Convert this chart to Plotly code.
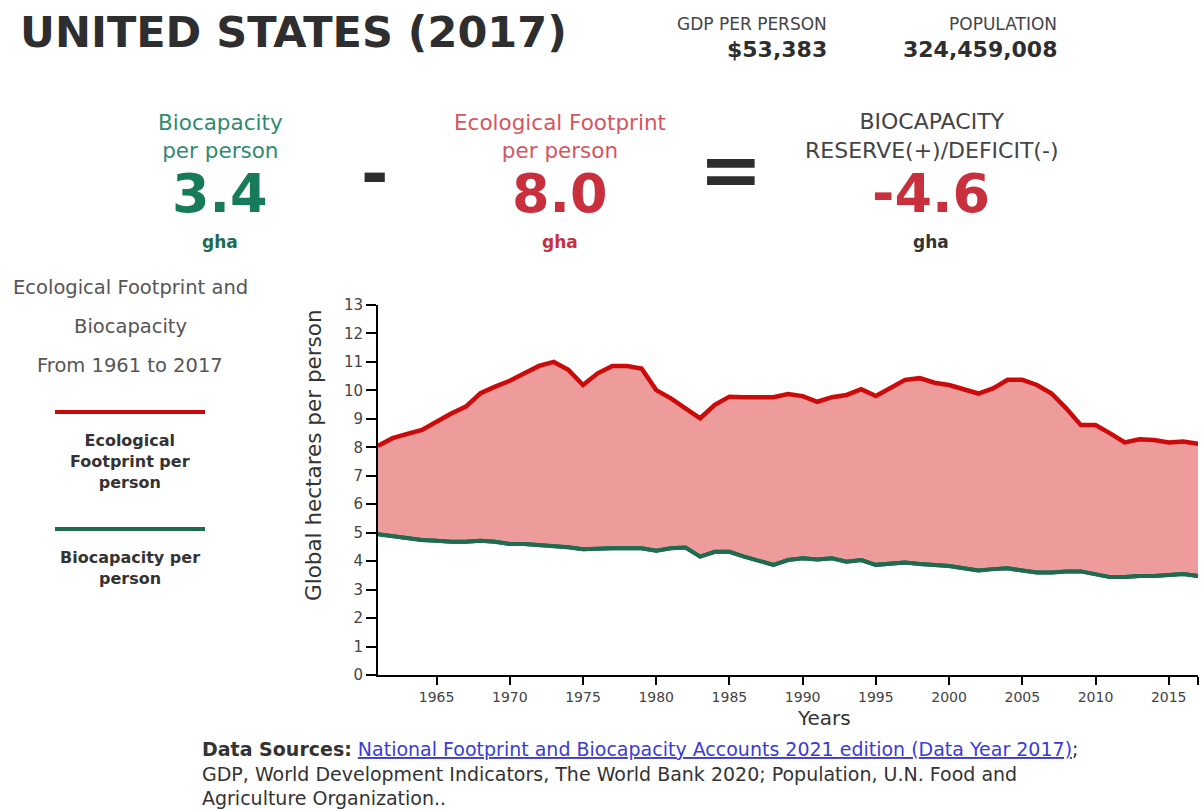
import plotly.graph_objects as go

# ---------------- data ----------------
years = list(range(1961, 2018))
footprint = [8.05, 8.32, 8.47, 8.61, 8.90, 9.19, 9.43, 9.90, 10.13, 10.34,
             10.60, 10.86, 11.00, 10.72, 10.19, 10.60, 10.86, 10.86, 10.77, 10.01,
             9.72, 9.37, 9.02, 9.49, 9.78, 9.76, 9.76, 9.76, 9.87, 9.80,
             9.60, 9.76, 9.84, 10.04, 9.80, 10.07, 10.37, 10.43, 10.27, 10.19,
             10.04, 9.89, 10.07, 10.37, 10.37, 10.19, 9.89, 9.37, 8.78, 8.78,
             8.49, 8.17, 8.28, 8.26, 8.17, 8.20, 8.12]
biocapacity = [4.95, 4.88, 4.80, 4.74, 4.72, 4.68, 4.68, 4.72, 4.68, 4.60,
               4.60, 4.57, 4.53, 4.49, 4.42, 4.45, 4.45, 4.45, 4.45, 4.37,
               4.45, 4.48, 4.16, 4.33, 4.33, 4.16, 4.00, 3.87, 4.04, 4.10,
               4.06, 4.10, 3.98, 4.04, 3.87, 3.92, 3.95, 3.90, 3.87, 3.83,
               3.75, 3.67, 3.72, 3.75, 3.67, 3.60, 3.60, 3.64, 3.64, 3.55,
               3.44, 3.44, 3.48, 3.48, 3.52, 3.55, 3.48]
x_ticks = [1965, 1970, 1975, 1980, 1985, 1990, 1995, 2000, 2005, 2010, 2015]
y_ticks = list(range(0, 14))

country = "UNITED STATES (2017)"
gdp_label, gdp_value = "GDP PER PERSON", "$53,383"
pop_label, pop_value = "POPULATION", "324,459,008"
bio_value, eco_value, res_value = "3.4", "8.0", "-4.6"

# ---------------- layout geometry ----------------
W, H = 1204, 811
L, R, T, B = 378, 6, 305, 136
PW, PH = W - L - R, H - T - B

def px(x):
    return (x - L) / PW

def py(y):
    return (H - B - y) / PH

RED = "#cc0a0a"
GREEN = "#1e6b50"
FILL = "rgba(236,152,152,0.97)"
FONT = "DejaVu Sans, Open Sans, sans-serif"

fig = go.Figure()
fig.add_trace(go.Scatter(x=years, y=biocapacity, mode="lines",
                         line=dict(color=GREEN, width=4), hoverinfo="skip"))
fig.add_trace(go.Scatter(x=years, y=footprint, mode="lines", fill="tonexty",
                         fillcolor=FILL, line=dict(color=RED, width=4.5),
                         hoverinfo="skip"))
fig.add_trace(go.Scatter(x=years, y=biocapacity, mode="lines",
                         line=dict(color=GREEN, width=4), hoverinfo="skip"))

ann = []

def text(x, y, s, size, color="#333", bold=False, align="center", xanchor="center", family=FONT):
    ann.append(dict(x=px(x), y=py(y), xref="paper", yref="paper", text=s,
                    showarrow=False, xanchor=xanchor, yanchor="middle", align=align,
                    font=dict(size=size, color=color, family=family,
                              weight="bold" if bold else "normal")))

# Header
text(18, 32, country, 43, "#2e2e2e", True, xanchor="left")
text(829, 24, gdp_label, 17, "#444", xanchor="right")
text(829, 49, gdp_value, 22, "#2e2e2e", True, xanchor="right")
text(1059, 24, pop_label, 17, "#444", xanchor="right")
text(1059, 49, pop_value, 22, "#2e2e2e", True, xanchor="right")

# Equation row
text(220, 136, "Biocapacity<br>per person", 21.5, "#2f8a72")
text(220, 193, bio_value, 54, "#177a58", True)
text(220, 242, "gha", 17, "#1e6b50", True)
text(374, 173, "-", 66, "#2e2e2e", True)
text(560, 136, "Ecological Footprint<br>per person", 21.5, "#d65560")
text(560, 193, eco_value, 54, "#c8303e", True)
text(560, 242, "gha", 17, "#c8303e", True)
text(731, 170, "=", 76, "#2e2e2e", True)
text(931, 136, "BIOCAPACITY<br>RESERVE(+)/DEFICIT(-)", 22, "#444")
text(931, 193, res_value, 54, "#c8303e", True)
text(931, 242, "gha", 17, "#333", True)

# Side legend
text(130, 287, "Ecological Footprint and", 19.5, "#555")
text(130, 326, "Biocapacity", 19.5, "#555")
text(130, 365, "From 1961 to 2017", 19.5, "#555")
text(130, 461, "Ecological<br>Footprint per<br>person", 16, "#333", True)
text(130, 568, "Biocapacity per<br>person", 16, "#333", True)

# Axis titles
ann.append(dict(x=px(313), y=py(455), xref="paper", yref="paper",
                text="Global hectares per person", showarrow=False, textangle=-90,
                xanchor="center", yanchor="middle",
                font=dict(size=21.5, color="#333", family=FONT)))
text(824, 718, "Years", 20, "#333")

# Sources
src = ("<b>Data Sources:</b> <a href='#' style='color:#3b3bd6'><u>National Footprint and Biocapacity "
       "Accounts 2021 edition (Data Year 2017)</u></a>;<br>"
       "GDP, World Development Indicators, The World Bank 2020; Population, U.N. Food and<br>"
       "Agriculture Organization..")
ann.append(dict(x=px(200), y=py(736), xref="paper", yref="paper", text=src,
                showarrow=False, xanchor="left", yanchor="top", align="left",
                font=dict(size=19, color="#333", family=FONT)))

shapes = [
    dict(type="line", xref="paper", yref="paper", x0=px(55), x1=px(205),
         y0=py(412), y1=py(412), line=dict(color=RED, width=4)),
    dict(type="line", xref="paper", yref="paper", x0=px(55), x1=px(205),
         y0=py(529), y1=py(529), line=dict(color=GREEN, width=4)),
]

x_tickvals = x_ticks + [years[-1]]
x_ticktext = [str(v) for v in x_ticks] + [""]

fig.update_layout(
    width=W, height=H, margin=dict(l=L, r=R, t=T, b=B, pad=0),
    paper_bgcolor="white", plot_bgcolor="white", showlegend=False,
    annotations=ann, shapes=shapes,
    font=dict(family=FONT, color="#333"),
    xaxis=dict(range=[1961, 2017], tickvals=x_tickvals, ticktext=x_ticktext,
               showgrid=False, zeroline=False,
               showline=True, linecolor="black", linewidth=2, ticks="outside",
               ticklen=8, tickwidth=1.5, tickcolor="black",
               tickfont=dict(size=14, color="#444")),
    yaxis=dict(range=[0, 13], tickvals=y_ticks, showgrid=False, zeroline=False,
               showline=True, linecolor="black", linewidth=2, ticks="outside",
               ticklen=10, tickwidth=1.5, tickcolor="black",
               tickfont=dict(size=15, color="#444")),
)

fig.write_html("out.html", config={"displayModeBar": False},
               post_script="document.body.style.margin='0';")
